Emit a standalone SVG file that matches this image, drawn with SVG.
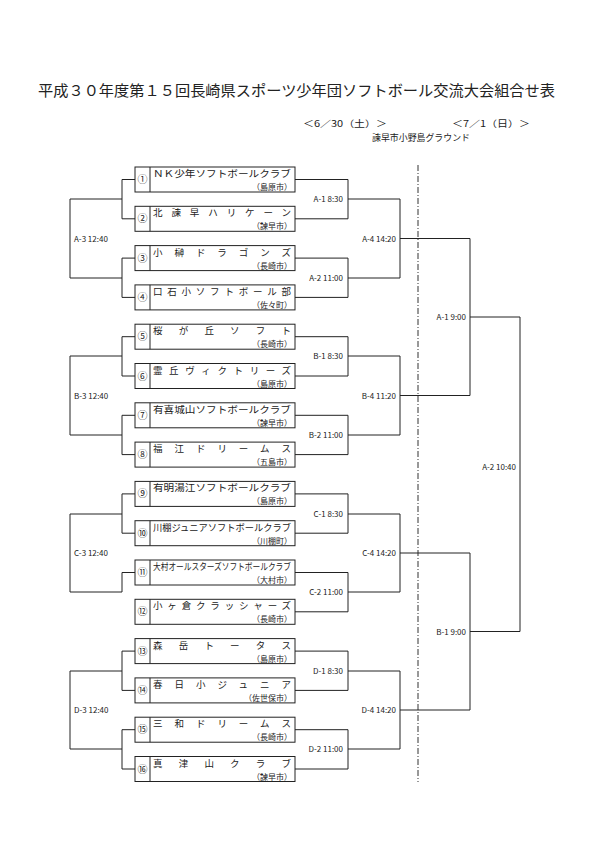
<svg xmlns="http://www.w3.org/2000/svg" width="595" height="842" viewBox="0 0 595 842">
<style>
.bg{fill:#fff}
.box{fill:none;stroke:#222;stroke-width:1}
.ln{fill:none;stroke:#222;stroke-width:1}
.sep{fill:none;stroke:#333;stroke-width:1;stroke-dasharray:6 2 1 2}
text{font-family:"Noto Sans CJK JP","Noto Sans",sans-serif;fill:#222}
.title{font-size:15px}
.hd{font-size:9px}
.num{font-size:10px;text-anchor:middle}
.name{font-size:9.5px}
.city{font-size:8px;text-anchor:end}
.lb{font-size:8px;text-anchor:end}
.lbl{font-size:8px}
</style>
<rect class="bg" x="0" y="0" width="595" height="842"/>
<text class="title" x="38" y="96" textLength="517" lengthAdjust="spacingAndGlyphs">平成３０年度第１５回長崎県スポーツ少年団ソフトボール交流大会組合せ表</text>
<text class="hd" x="303" y="127" textLength="84" lengthAdjust="spacingAndGlyphs">＜6／30（土）＞</text>
<text class="hd" x="452" y="127" textLength="78" lengthAdjust="spacingAndGlyphs">＜7／1（日）＞</text>
<text class="hd" x="372" y="141" textLength="98" lengthAdjust="spacingAndGlyphs">諫早市小野島グラウンド</text>

<g id="connectors">
<line class="sep" x1="418" y1="165" x2="418" y2="782"/>
<path class="ln" d="M295 179.5H348V218.8H295 M348 199H400"/>
<path class="ln" d="M295 258.1H348V297.4H295 M348 278H400"/>
<path class="ln" d="M295 336.7H348V376H295 M348 356H400"/>
<path class="ln" d="M295 415.3H348V454.6H295 M348 435H400"/>
<path class="ln" d="M295 493.9H348V533.2H295 M348 514H400"/>
<path class="ln" d="M295 572.5H348V611.8H295 M348 592H400"/>
<path class="ln" d="M295 651.1H348V690.4H295 M348 671H400"/>
<path class="ln" d="M295 729.7H348V769H295 M348 749H400"/>
<path class="ln" d="M400 199V278 M400 238.5H470"/>
<path class="ln" d="M400 356V435 M400 395.5H470"/>
<path class="ln" d="M400 514V592 M400 553H470"/>
<path class="ln" d="M400 671V749 M400 710H470"/>
<path class="ln" d="M470 238.5V395.5 M470 317H520"/>
<path class="ln" d="M470 553V710 M470 631.5H520"/>
<path class="ln" d="M520 317V631.5"/>
<path class="ln" d="M135 179.5H122V218.8H135 M122 199H70"/>
<path class="ln" d="M135 258.1H122V297.4H135 M122 278H70"/>
<path class="ln" d="M70 199V278"/>
<path class="ln" d="M135 336.7H122V376H135 M122 356H70"/>
<path class="ln" d="M135 415.3H122V454.6H135 M122 435H70"/>
<path class="ln" d="M70 356V435"/>
<path class="ln" d="M135 493.9H122V533.2H135 M122 514H70"/>
<path class="ln" d="M135 572.5H122V592H70"/>
<path class="ln" d="M70 514V592"/>
<path class="ln" d="M135 651.1H122V690.4H135 M122 671H70"/>
<path class="ln" d="M135 729.7H122V769H135 M122 749H70"/>
<path class="ln" d="M70 671V749"/>
</g>

<g id="labels">
<text class="lb" x="343" y="202">A-1 8:30</text>
<text class="lb" x="343" y="281">A-2 11:00</text>
<text class="lb" x="343" y="359">B-1 8:30</text>
<text class="lb" x="343" y="438">B-2 11:00</text>
<text class="lb" x="343" y="517">C-1 8:30</text>
<text class="lb" x="343" y="595">C-2 11:00</text>
<text class="lb" x="343" y="674">D-1 8:30</text>
<text class="lb" x="343" y="752">D-2 11:00</text>
<text class="lb" x="396" y="241.5">A-4 14:20</text>
<text class="lb" x="396" y="398.5">B-4 11:20</text>
<text class="lb" x="396" y="556">C-4 14:20</text>
<text class="lb" x="396" y="713">D-4 14:20</text>
<text class="lb" x="466" y="320">A-1 9:00</text>
<text class="lb" x="466" y="634.5">B-1 9:00</text>
<text class="lb" x="516" y="470">A-2 10:40</text>
<text class="lbl" x="74" y="242">A-3 12:40</text>
<text class="lbl" x="74" y="399">B-3 12:40</text>
<text class="lbl" x="74" y="556">C-3 12:40</text>
<text class="lbl" x="74" y="713">D-3 12:40</text>
</g>

<g id="team1"><rect class="box" x="135" y="167" width="160" height="25"/><line class="box" x1="150" y1="167" x2="150" y2="192"/><text class="num" x="142.5" y="183">①</text><text class="name" x="153" y="177" textLength="138" lengthAdjust="spacingAndGlyphs">ＮＫ少年ソフトボールクラブ</text><text class="city" x="292" y="190">（島原市）</text></g>
<g id="team2"><rect class="box" x="135" y="206.3" width="160" height="25"/><line class="box" x1="150" y1="206.3" x2="150" y2="231.3"/><text class="num" x="142.5" y="222.3">②</text><text class="name" x="153" y="216.3" textLength="138" lengthAdjust="spacing">北諫早ハリケーン</text><text class="city" x="292" y="229.3">（諫早市）</text></g>
<g id="team3"><rect class="box" x="135" y="245.6" width="160" height="25"/><line class="box" x1="150" y1="245.6" x2="150" y2="270.6"/><text class="num" x="142.5" y="261.6">③</text><text class="name" x="153" y="255.6" textLength="138" lengthAdjust="spacing">小榊ドラゴンズ</text><text class="city" x="292" y="268.6">（長崎市）</text></g>
<g id="team4"><rect class="box" x="135" y="284.9" width="160" height="25"/><line class="box" x1="150" y1="284.9" x2="150" y2="309.9"/><text class="num" x="142.5" y="300.9">④</text><text class="name" x="153" y="294.9" textLength="138" lengthAdjust="spacing">口石小ソフトボール部</text><text class="city" x="292" y="307.9">（佐々町）</text></g>
<g id="team5"><rect class="box" x="135" y="324.2" width="160" height="25"/><line class="box" x1="150" y1="324.2" x2="150" y2="349.2"/><text class="num" x="142.5" y="340.2">⑤</text><text class="name" x="153" y="334.2" textLength="138" lengthAdjust="spacing">桜が丘ソフト</text><text class="city" x="292" y="347.2">（長崎市）</text></g>
<g id="team6"><rect class="box" x="135" y="363.5" width="160" height="25"/><line class="box" x1="150" y1="363.5" x2="150" y2="388.5"/><text class="num" x="142.5" y="379.5">⑥</text><text class="name" x="153" y="373.5" textLength="138" lengthAdjust="spacing">霊丘ヴィクトリーズ</text><text class="city" x="292" y="386.5">（島原市）</text></g>
<g id="team7"><rect class="box" x="135" y="402.8" width="160" height="25"/><line class="box" x1="150" y1="402.8" x2="150" y2="427.8"/><text class="num" x="142.5" y="418.8">⑦</text><text class="name" x="153" y="412.8" textLength="138" lengthAdjust="spacingAndGlyphs">有喜城山ソフトボールクラブ</text><text class="city" x="292" y="425.8">（諫早市）</text></g>
<g id="team8"><rect class="box" x="135" y="442.1" width="160" height="25"/><line class="box" x1="150" y1="442.1" x2="150" y2="467.1"/><text class="num" x="142.5" y="458.1">⑧</text><text class="name" x="153" y="452.1" textLength="138" lengthAdjust="spacing">福江ドリームス</text><text class="city" x="292" y="465.1">（五島市）</text></g>
<g id="team9"><rect class="box" x="135" y="481.4" width="160" height="25"/><line class="box" x1="150" y1="481.4" x2="150" y2="506.4"/><text class="num" x="142.5" y="497.4">⑨</text><text class="name" x="153" y="491.4" textLength="138" lengthAdjust="spacingAndGlyphs">有明湯江ソフトボールクラブ</text><text class="city" x="292" y="504.4">（島原市）</text></g>
<g id="team10"><rect class="box" x="135" y="520.7" width="160" height="25"/><line class="box" x1="150" y1="520.7" x2="150" y2="545.7"/><text class="num" x="142.5" y="536.7">⑩</text><text class="name" x="153" y="530.7" textLength="138" lengthAdjust="spacingAndGlyphs">川棚ジュニアソフトボールクラブ</text><text class="city" x="292" y="543.7">（川棚町）</text></g>
<g id="team11"><rect class="box" x="135" y="560" width="160" height="25"/><line class="box" x1="150" y1="560" x2="150" y2="585"/><text class="num" x="142.5" y="576">⑪</text><text class="name" x="153" y="570" textLength="138" lengthAdjust="spacingAndGlyphs">大村オールスターズソフトボールクラブ</text><text class="city" x="292" y="583">（大村市）</text></g>
<g id="team12"><rect class="box" x="135" y="599.3" width="160" height="25"/><line class="box" x1="150" y1="599.3" x2="150" y2="624.3"/><text class="num" x="142.5" y="615.3">⑫</text><text class="name" x="153" y="609.3" textLength="138" lengthAdjust="spacing">小ヶ倉クラッシャーズ</text><text class="city" x="292" y="622.3">（長崎市）</text></g>
<g id="team13"><rect class="box" x="135" y="638.6" width="160" height="25"/><line class="box" x1="150" y1="638.6" x2="150" y2="663.6"/><text class="num" x="142.5" y="654.6">⑬</text><text class="name" x="153" y="648.6" textLength="138" lengthAdjust="spacing">森岳トータス</text><text class="city" x="292" y="661.6">（島原市）</text></g>
<g id="team14"><rect class="box" x="135" y="677.9" width="160" height="25"/><line class="box" x1="150" y1="677.9" x2="150" y2="702.9"/><text class="num" x="142.5" y="693.9">⑭</text><text class="name" x="153" y="687.9" textLength="138" lengthAdjust="spacing">春日小ジュニア</text><text class="city" x="292" y="700.9">（佐世保市）</text></g>
<g id="team15"><rect class="box" x="135" y="717.2" width="160" height="25"/><line class="box" x1="150" y1="717.2" x2="150" y2="742.2"/><text class="num" x="142.5" y="733.2">⑮</text><text class="name" x="153" y="727.2" textLength="138" lengthAdjust="spacing">三和ドリームス</text><text class="city" x="292" y="740.2">（長崎市）</text></g>
<g id="team16"><rect class="box" x="135" y="756.5" width="160" height="25"/><line class="box" x1="150" y1="756.5" x2="150" y2="781.5"/><text class="num" x="142.5" y="772.5">⑯</text><text class="name" x="153" y="766.5" textLength="138" lengthAdjust="spacing">真津山クラブ</text><text class="city" x="292" y="779.5">（諫早市）</text></g>
</svg>
